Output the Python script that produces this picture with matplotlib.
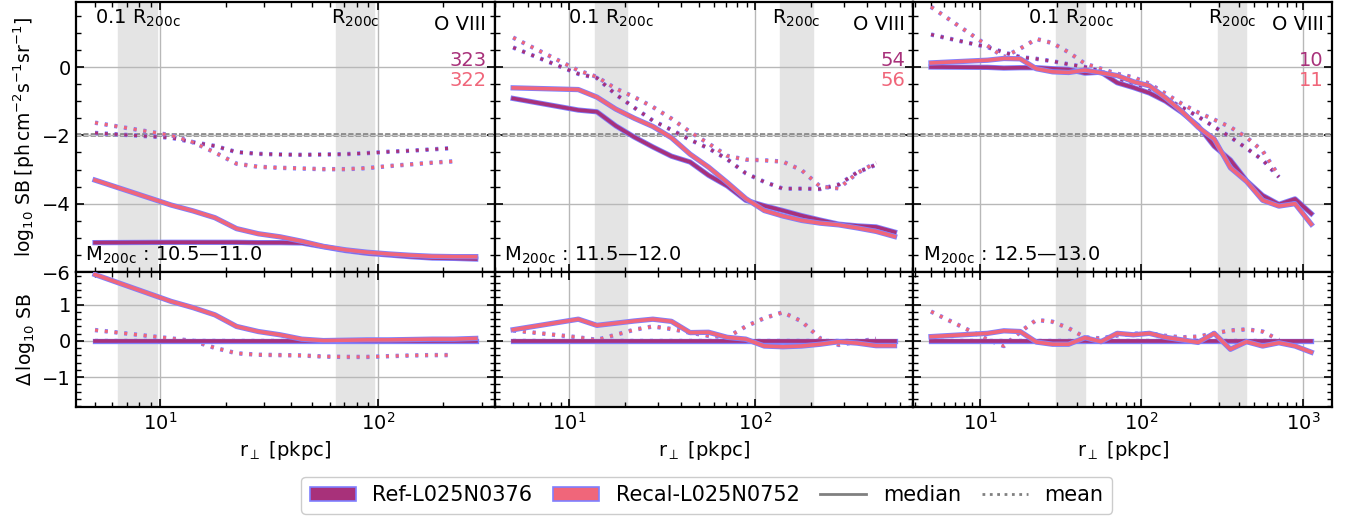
import numpy as np
import matplotlib
matplotlib.use('Agg')
from matplotlib import pyplot as plt
from matplotlib import patheffects as pe
from matplotlib.patches import Patch
from matplotlib.lines import Line2D
from matplotlib.ticker import MultipleLocator

# bin centres [pkpc]
r_bins = [5.0, 11.2, 14.1, 17.8, 22.4, 28.2, 35.5, 44.7, 56.2, 70.8, 89.1,
          112, 141, 178, 224, 282, 355, 447, 562, 708, 891, 1122]

mass_labels = ['10.5\u201411.0', '11.5\u201412.0', '12.5\u201413.0']
ref_counts = [323, 54, 10]
recal_counts = [322, 56, 11]

band_01 = [(6.4, 9.6), (13.7, 20.5), (29.6, 44.6)]
band_r200 = [(64.3, 95.8), (136.5, 204.0), (296.0, 445.0)]

# log10 SB, medians
ref_med = [
    [-5.14, -5.13, -5.13, -5.13, -5.13, -5.14, -5.14, -5.15, -5.26, -5.37,
     -5.45, -5.50, -5.55, -5.59, -5.60, -5.62],
    [-0.92, -1.26, -1.31, -1.72, -2.05, -2.34, -2.61, -2.78, -3.17, -3.48,
     -3.90, -4.06, -4.20, -4.35, -4.48, -4.60, -4.65, -4.68, -4.83],
    [0.00, -0.01, -0.03, -0.02, -0.02, -0.05, -0.07, -0.18, -0.15, -0.46,
     -0.60, -0.76, -1.00, -1.33, -1.72, -2.32, -2.72, -3.33, -3.76, -4.02,
     -3.86, -4.29],
]
recal_med = [
    [-3.31, -4.04, -4.21, -4.41, -4.73, -4.88, -4.97, -5.10, -5.25, -5.35,
     -5.42, -5.47, -5.51, -5.54, -5.55, -5.55],
    [-0.61, -0.66, -0.88, -1.23, -1.50, -1.74, -2.07, -2.55, -2.93, -3.38,
     -3.85, -4.20, -4.36, -4.49, -4.57, -4.62, -4.71, -4.81, -4.96],
    [0.12, 0.20, 0.25, 0.24, -0.05, -0.14, -0.16, -0.09, -0.17, -0.25,
     -0.43, -0.55, -0.90, -1.30, -1.76, -2.11, -2.95, -3.35, -3.90, -4.07,
     -4.00, -4.60],
]
# log10 SB, means
ref_mean = [
    [-1.93, -2.07, -2.20, -2.31, -2.49, -2.54, -2.56, -2.57, -2.56, -2.55,
     -2.52, -2.48, -2.45, -2.41, -2.37],
    [0.57, -0.20, -0.32, -0.80, -1.19, -1.57, -1.84, -2.13, -2.38, -2.70,
     -3.11, -3.36, -3.56, -3.56, -3.57, -3.44, -3.08, -2.86],
    [0.95, 0.58, 0.43, 0.29, 0.24, 0.17, 0.08, 0.00, -0.12, -0.35,
     -0.50, -0.70, -0.92, -1.18, -1.45, -1.75, -2.05, -2.38, -2.72, -3.22],
]
recal_mean = [
    [-1.63, -2.00, -2.20, -2.50, -2.83, -2.92, -2.95, -2.97, -2.99, -2.99,
     -2.96, -2.90, -2.85, -2.80, -2.76],
    [0.86, -0.10, -0.29, -0.63, -0.88, -1.17, -1.51, -1.90, -2.24, -2.60,
     -2.71, -2.73, -2.77, -3.02, -3.50, -3.55, -3.10, -2.80],
    [1.76, 0.62, 0.29, 0.54, 0.82, 0.70, 0.43, 0.10, -0.05, -0.20,
     -0.30, -0.49, -0.78, -1.08, -1.33, -1.54, -1.76, -2.06, -2.46, -3.19],
]

xlims = [(4.09, 345), (3.98, 710), (3.89, 1510)]

c_ref = '#a8317a'
c_recal = '#f0667a'
c_edge = '#7f7fff'
fs = 14

plt.rcParams['font.size'] = fs

fig = plt.figure(figsize=(13.51, 5.24), dpi=100)
gs = fig.add_gridspec(2, 3, height_ratios=[2, 1], left=0.0563, right=0.986,
                      top=0.996, bottom=0.2233, wspace=0.0, hspace=0.0)

outline = [pe.Stroke(linewidth=3.8, foreground=c_edge), pe.Normal()]
outline_d = [pe.Stroke(linewidth=3.2, foreground=c_edge), pe.Normal()]

for i in range(3):
    ax = fig.add_subplot(gs[0, i])
    axd = fig.add_subplot(gs[1, i])

    nm = len(ref_med[i])
    na = len(ref_mean[i])
    rm = np.array(r_bins[:nm])
    ra = np.array(r_bins[:na])
    rf_m = np.array(ref_med[i])
    rc_m = np.array(recal_med[i])
    rf_a = np.array(ref_mean[i])
    rc_a = np.array(recal_mean[i])

    for a in (ax, axd):
        a.axvspan(band_01[i][0], band_01[i][1], color='#e4e4e4', zorder=0)
        a.axvspan(band_r200[i][0], band_r200[i][1], color='#e4e4e4', zorder=0)
        a.set_xscale('log')
        a.set_xlim(xlims[i])
        a.grid(True, which='major', color='#b8b8b8', lw=1.0, zorder=1)
        a.set_axisbelow(True)
        a.tick_params(which='both', direction='in', top=True, right=True,
                      labelsize=fs)
        a.tick_params(which='major', length=6, width=1.2)
        a.tick_params(which='minor', length=3.5, width=1.0)
        for s in a.spines.values():
            s.set_linewidth(1.6)

    ax.axhline(-2, color='#c8c8c8', ls='--', lw=1.0, zorder=2,
               path_effects=[pe.Stroke(linewidth=2.6, foreground='#808080'),
                             pe.Normal()])

    ax.plot(rm, rf_m, color=c_ref, lw=2.6, zorder=4, path_effects=outline)
    ax.plot(rm, rc_m, color=c_recal, lw=2.6, zorder=4, path_effects=outline)
    ax.plot(ra, rf_a, color=c_ref, lw=2.2, ls=(0, (1, 2.2)), zorder=3,
            path_effects=outline_d)
    ax.plot(ra, rc_a, color=c_recal, lw=2.2, ls=(0, (1, 2.2)), zorder=3,
            path_effects=outline_d)

    axd.plot(rm, rf_m - rf_m, color=c_ref, lw=2.6, zorder=4, path_effects=outline)
    axd.plot(rm, rc_m - rf_m, color=c_recal, lw=2.6, zorder=4, path_effects=outline)
    axd.plot(ra, rf_a - rf_a, color=c_ref, lw=2.2, ls=(0, (1, 2.2)), zorder=3,
             path_effects=outline_d)
    axd.plot(ra, rc_a - rf_a, color=c_recal, lw=2.2, ls=(0, (1, 2.2)), zorder=3,
             path_effects=outline_d)

    ax.set_ylim(-6, 1.9)
    ax.yaxis.set_major_locator(MultipleLocator(2))
    ax.yaxis.set_minor_locator(MultipleLocator(0.5))
    axd.set_ylim(-1.82, 1.9)
    axd.yaxis.set_major_locator(MultipleLocator(1))
    axd.yaxis.set_minor_locator(MultipleLocator(0.2))
    ax.tick_params(labelbottom=False)
    if i > 0:
        ax.tick_params(labelleft=False)
        axd.tick_params(labelleft=False)
    else:
        ax.set_ylabel(r'$\log_{10}\,\mathrm{SB}\;[\mathrm{ph\,cm^{-2}s^{-1}sr^{-1}}]$',
                      fontsize=13.5)
        axd.set_ylabel(r'$\Delta\,\log_{10}\,\mathrm{SB}$', fontsize=13.5)
    axd.set_xlabel(r'$\mathrm{r}_{\perp}$ [pkpc]', fontsize=fs)

    # labels for the radius bands
    x01 = np.sqrt(band_01[i][0] * band_01[i][1])
    x200 = np.sqrt(band_r200[i][0] * band_r200[i][1])
    ax.text(x01, 0.978, r'0.1 $\mathrm{R_{200c}}$', transform=ax.get_xaxis_transform(),
            ha='center', va='top', fontsize=fs)
    ax.text(x200, 0.978, r'$\mathrm{R_{200c}}$', transform=ax.get_xaxis_transform(),
            ha='center', va='top', fontsize=fs)
    ax.text(0.98, 0.918, 'O VIII', transform=ax.transAxes, ha='right',
            va='center', fontsize=fs)
    ax.text(0.98, 0.785, str(ref_counts[i]), transform=ax.transAxes,
            ha='right', va='center', fontsize=fs, color=c_ref)
    ax.text(0.98, 0.711, str(recal_counts[i]), transform=ax.transAxes,
            ha='right', va='center', fontsize=fs, color=c_recal)
    ax.text(0.022, 0.063, r'$\mathrm{M_{200c}}$ : ' + mass_labels[i],
            transform=ax.transAxes, ha='left', va='center', fontsize=fs)

handles = [Patch(facecolor=c_ref, edgecolor=c_edge, lw=1.2, label='Ref-L025N0376'),
           Patch(facecolor=c_recal, edgecolor=c_edge, lw=1.2, label='Recal-L025N0752'),
           Line2D([], [], color='gray', lw=2, ls='-', label='median'),
           Line2D([], [], color='gray', lw=2, ls=':', label='mean')]
fig.legend(handles=handles, loc='lower center', bbox_to_anchor=(0.523, 0.0),
           ncol=4, fontsize=15, handlelength=2.2, columnspacing=1.0,
           handletextpad=0.8, framealpha=1.0)

fig.savefig('out.png', dpi=100)
